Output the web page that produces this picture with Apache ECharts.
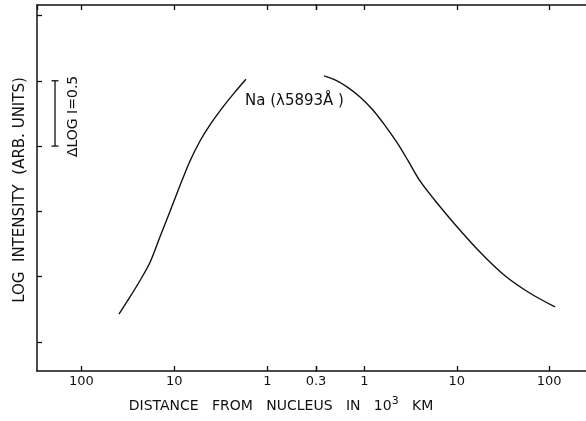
<!DOCTYPE html>
<html>
<head>
<meta charset="utf-8">
<script src="https://cdn.jsdelivr.net/npm/echarts@6/dist/echarts.min.js"></script>
<style>
  html, body { margin: 0; padding: 0; background: #fff; }
  #chart { width: 586px; height: 421px; }
</style>
</head>
<body>
<div id="chart"></div>
<script>
// Sunward branch: distance from nucleus (10^3 km) and log intensity (arb. units)
const sunwardDistance = [39.4, 30.0, 23.4, 18.3, 14.3, 11.1, 8.70, 6.79, 5.30, 4.14, 3.07, 2.28, 1.70];
const sunwardLogI     = [0.214, 0.345, 0.471, 0.609, 0.804, 1.003, 1.198, 1.386, 1.539, 1.662, 1.790, 1.905, 2.011];

// Tailward branch
const tailwardDistance = [0.366, 0.482, 0.649, 0.898, 1.21, 1.67, 2.26, 2.97, 4.00, 5.81, 9.57, 17.8, 33.2, 62.0, 115.5];
const tailwardLogI     = [2.037, 2.006, 1.953, 1.876, 1.784, 1.659, 1.526, 1.388, 1.233, 1.083, 0.900, 0.689, 0.507, 0.373, 0.268];

// Axis ranges and tick positions
const innerDistance = 0.3;
const sunwardMax = 300;
const tailwardMax = 276;
const logITicks = [0, 0.5, 1, 1.5, 2, 2.5];
const logIRange = [-0.222, 2.58];

// Scale bar: ΔLOG I = 0.5
const scaleBarDistance = 192;
const scaleBarLogI = [1.5, 2.0];

const ink = '#111';
const font = '"DejaVu Sans", "Liberation Sans", sans-serif';

function pairs(xs, ys) { return xs.map((x, i) => [x, ys[i]]); }

function tickLabel(v) {
  if (v > 200) return '';
  return String(+(+v).toPrecision(3));
}

function distanceAxis(gridIndex, max, inverse, position, showLabels, hideInner) {
  return {
    type: 'log',
    logBase: 10,
    gridIndex,
    position,
    inverse,
    min: innerDistance,
    max,
    axisLine: { show: true, onZero: false, lineStyle: { color: ink, width: 1.5 } },
    axisTick: { show: true, inside: true, length: 5, lineStyle: { color: ink, width: 1.3 } },
    minorTick: { show: false },
    splitLine: { show: false },
    axisLabel: {
      show: showLabels,
      showMaxLabel: false,
      color: ink,
      fontFamily: font,
      fontSize: 13,
      margin: 4,
      formatter: v => (hideInner && v < 0.5) ? '' : tickLabel(v)
    }
  };
}

function logIAxis(gridIndex, show) {
  return {
    type: 'value',
    gridIndex,
    show,
    min: logIRange[0],
    max: logIRange[1],
    axisLine: { show: true, onZero: false, lineStyle: { color: ink, width: 1.5 } },
    axisTick: { show: true, inside: true, length: 5, customValues: logITicks, lineStyle: { color: ink, width: 1.3 } },
    axisLabel: { show: false },
    splitLine: { show: false }
  };
}

const curveStyle = { color: ink, width: 1.4 };

const chart = echarts.init(document.getElementById('chart'), null, { renderer: 'canvas' });

chart.setOption({
  backgroundColor: '#fff',
  animation: false,
  grid: [
    { left: 37, top: 5, width: 279, bottom: 50, outerBoundsMode: 'none', containLabel: false },
    { left: 316, top: 5, width: 274, bottom: 50, outerBoundsMode: 'none', containLabel: false }
  ],
  xAxis: [
    distanceAxis(0, sunwardMax, true, 'bottom', true, false),
    distanceAxis(1, tailwardMax, false, 'bottom', true, true),
    distanceAxis(0, sunwardMax, true, 'top', false, false),
    distanceAxis(1, tailwardMax, false, 'top', false, true)
  ],
  yAxis: [logIAxis(0, true), logIAxis(1, false)],
  series: [
    {
      type: 'line', xAxisIndex: 0, yAxisIndex: 0,
      data: pairs(sunwardDistance, sunwardLogI),
      smooth: 0.3, showSymbol: false, lineStyle: curveStyle
    },
    {
      type: 'line', xAxisIndex: 1, yAxisIndex: 1,
      data: pairs(tailwardDistance, tailwardLogI),
      smooth: 0.3, showSymbol: false, lineStyle: curveStyle
    },
    {
      type: 'custom', xAxisIndex: 0, yAxisIndex: 0,
      data: [[scaleBarDistance, scaleBarLogI[0], scaleBarLogI[1]]],
      renderItem: (params, api) => {
        const lo = api.coord([api.value(0), api.value(1)]);
        const hi = api.coord([api.value(0), api.value(2)]);
        const cap = 3.5;
        const style = { stroke: ink, lineWidth: 1.3 };
        return {
          type: 'group',
          children: [
            { type: 'line', shape: { x1: lo[0], y1: lo[1], x2: hi[0], y2: hi[1] }, style },
            { type: 'line', shape: { x1: lo[0] - cap, y1: lo[1], x2: lo[0] + cap, y2: lo[1] }, style },
            { type: 'line', shape: { x1: hi[0] - cap, y1: hi[1], x2: hi[0] + cap, y2: hi[1] }, style },
            {
              type: 'text',
              x: lo[0] + 18, y: (lo[1] + hi[1]) / 2 + 3,
              rotation: Math.PI / 2,
              style: {
                text: 'ΔLOG I=0.5', fill: ink, font: '14px ' + font,
                align: 'center', verticalAlign: 'middle'
              }
            }
          ]
        };
      }
    }
  ],
  graphic: [
    {
      type: 'text', x: 20, y: 190, rotation: Math.PI / 2,
      style: {
        text: 'LOG  INTENSITY  (ARB. UNITS)', fill: ink, font: '15px ' + font,
        align: 'center', verticalAlign: 'middle'
      }
    },
    {
      type: 'text', x: 281, y: 406,
      style: {
        text: '{a|DISTANCE   FROM   NUCLEUS   IN   10}{s|3}{a|   KM}',
        align: 'center', verticalAlign: 'middle',
        rich: {
          a: { fill: ink, fontFamily: font, fontSize: 14 },
          s: { fill: ink, fontFamily: font, fontSize: 11, padding: [0, 0, 9, 0] }
        }
      }
    },
    {
      type: 'text', x: 245, y: 101,
      style: {
        text: 'Na (λ5893Å )', fill: ink, font: '15px ' + font,
        align: 'left', verticalAlign: 'middle'
      }
    }
  ]
});
</script>
</body>
</html>
